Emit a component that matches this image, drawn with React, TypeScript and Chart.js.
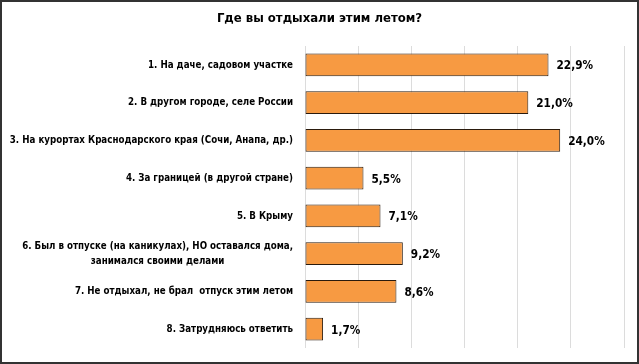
import React, { useEffect, useRef } from "react";
import { Chart, registerables } from "chart.js";

Chart.register(...registerables);

const categories: string[][] = [
  ["1. На даче, садовом участке"],
  ["2. В другом городе, селе России"],
  ["3. На курортах Краснодарского края (Сочи, Анапа, др.)"],
  ["4. За границей (в другой стране)"],
  ["5. В Крыму"],
  ["6. Был в отпуске (на каникулах), НО оставался дома,", "занимался своими делами"],
  ["7. Не отдыхал, не брал  отпуск этим летом"],
  ["8. Затрудняюсь ответить"],
];
const values: number[] = [22.9, 21.0, 24.0, 5.5, 7.1, 9.2, 8.6, 1.7];
const titleText = "Где вы отдыхали этим летом?";

const FONT = '"DejaVu Sans Condensed", sans-serif';

const labelsPlugin = {
  id: "customLabels",
  afterDraw(chart: any) {
    const ctx = chart.ctx;
    const area = chart.chartArea;
    const yScale = chart.scales.y;
    const xScale = chart.scales.x;
    ctx.save();
    ctx.fillStyle = "#000";
    ctx.textBaseline = "middle";
    // title
    ctx.font = `bold 13px ${FONT}`;
    ctx.textAlign = "center";
    ctx.fillText(titleText, chart.width / 2, 19);
    // category labels (condensed horizontally)
    const sx = 0.88;
    ctx.font = `bold 11px ${FONT}`;
    const rightX = area.left - 12;
    categories.forEach((lines, i) => {
      const yc = yScale.getPixelForValue(i);
      const lh = 15;
      const widths = lines.map((l) => ctx.measureText(l).width * sx);
      const maxW = Math.max(...widths);
      const cx = rightX - maxW / 2;
      lines.forEach((l, j) => {
        const y = yc + (j - (lines.length - 1) / 2) * lh;
        ctx.save();
        ctx.translate(cx, y);
        ctx.scale(sx, 1);
        ctx.textAlign = "center";
        ctx.fillText(l, 0, 0);
        ctx.restore();
      });
    });
    // value labels
    const vx = 0.9;
    ctx.font = `bold 13px ${FONT}`;
    ctx.textAlign = "left";
    values.forEach((v, i) => {
      const x = xScale.getPixelForValue(v) + 8;
      const y = yScale.getPixelForValue(i) + 1;
      ctx.save();
      ctx.translate(x, y);
      ctx.scale(vx, 1);
      ctx.fillText(v.toFixed(1).replace(".", ",") + "%", 0, 0);
      ctx.restore();
    });
    ctx.restore();
  },
};

export default function App() {
  const ref = useRef<HTMLCanvasElement>(null);
  useEffect(() => {
    document.body.style.margin = "0";
    const chart = new Chart(ref.current!, {
      type: "bar",
      data: {
        labels: categories.map((c) => c.join(" ")),
        datasets: [
          {
            data: values,
            backgroundColor: "#F79A42",
            borderColor: "#2a1a0c",
            borderWidth: 1,
            borderSkipped: false,
            categoryPercentage: 0.6,
            barPercentage: 1,
          },
        ],
      },
      options: {
        indexAxis: "y",
        responsive: false,
        animation: false,
        layout: { padding: { left: 305, right: 15, top: 46, bottom: 16 } },
        plugins: { legend: { display: false }, tooltip: { enabled: false }, title: { display: false } },
        scales: {
          x: {
            min: 0,
            max: 30,
            ticks: { display: false, stepSize: 5 },
            grid: { color: "#dcdcdc", drawTicks: false, lineWidth: 1 },
            border: { display: false },
          },
          y: { display: false },
        },
      },
      plugins: [labelsPlugin],
    });
    return () => chart.destroy();
  }, []);
  return (
    <div style={{ position: "fixed", left: 0, top: 0, width: 639, height: 364 }}>
      <canvas ref={ref} width={639} height={364} style={{ display: "block" }} />
      <div
        style={{
          position: "absolute",
          inset: 0,
          border: "2px solid #333",
          boxSizing: "border-box",
          pointerEvents: "none",
        }}
      />
    </div>
  );
}
